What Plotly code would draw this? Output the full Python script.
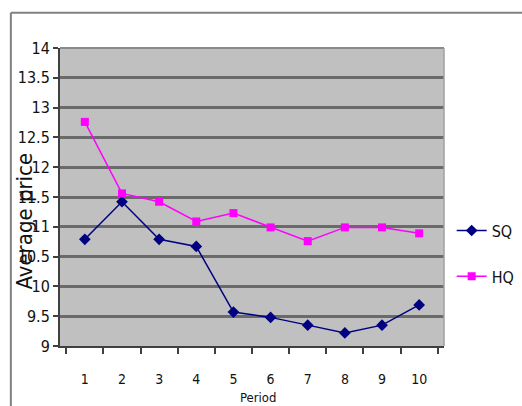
import plotly.graph_objects as go

# Average price per period for the two quality groups
periods = ["1", "2", "3", "4", "5", "6", "7", "8", "9", "10"]
sq_price = [10.79, 11.42, 10.79, 10.67, 9.57, 9.48, 9.35, 9.22, 9.35, 9.69]
hq_price = [12.76, 11.56, 11.42, 11.09, 11.23, 10.99, 10.76, 10.99, 10.99, 10.89]
y_ticks = [9, 9.5, 10, 10.5, 11, 11.5, 12, 12.5, 13, 13.5, 14]

FONT = "DejaVu Sans Condensed, Liberation Sans Narrow, Arial Narrow, Arial, sans-serif"

fig = go.Figure()
fig.add_trace(go.Scatter(
    x=periods, y=sq_price, name="SQ", mode="lines+markers",
    line=dict(color="#000080", width=1.5),
    marker=dict(symbol="diamond", size=9, color="#000080"),
    legendgroup="sq",
))
fig.add_trace(go.Scatter(
    x=periods, y=hq_price, name="HQ", mode="lines+markers",
    line=dict(color="#ff00ff", width=1.5),
    marker=dict(symbol="square", size=8, color="#ff00ff"),
    legendgroup="hq",
))

fig.update_layout(
    width=522, height=406,
    margin=dict(l=60, r=78, t=48, b=60, autoexpand=False),
    paper_bgcolor="white",
    plot_bgcolor="#c0c0c0",
    font=dict(family=FONT, size=16, color="#111111"),
    showlegend=True,
    legend=dict(
        x=1.02, y=0.31, xanchor="left", yanchor="middle",
        traceorder="grouped", tracegroupgap=22,
        itemwidth=30, font=dict(size=16),
        bgcolor="rgba(0,0,0,0)",
    ),
    xaxis=dict(
        type="category", tickson="boundaries",
        ticks="outside", ticklen=6, tickcolor="#404040", tickwidth=1.5,
        ticklabelstandoff=19,
        showline=True, linecolor="#404040", linewidth=2,
        showgrid=False, mirror=False,
        tickfont=dict(size=14),
    ),
    yaxis=dict(
        range=[9, 14], tickvals=y_ticks,
        ticktext=[f"{v:g}" for v in y_ticks],
        ticks="outside", ticklen=5, tickcolor="#404040", tickwidth=1.5,
        showline=True, linecolor="#404040", linewidth=2,
        showgrid=True, gridcolor="#6a6a6a", gridwidth=3,
        zeroline=False, tickfont=dict(size=16),
    ),
)

# Light frame on the top and right edges of the plotting area
fig.add_shape(type="line", xref="paper", yref="paper", x0=0, x1=1, y0=1, y1=1,
              line=dict(color="#8a8a8a", width=2))
fig.add_shape(type="line", xref="paper", yref="paper", x0=1, x1=1, y0=0, y1=1,
              line=dict(color="#a0a0a0", width=1.5))

# Outer chart frame: top and left edges (the rest runs off the page)
fig.add_shape(type="line", xref="paper", yref="paper",
              x0=-0.128, x1=1.5, y0=1.118, y1=1.118,
              line=dict(color="#808080", width=2))
fig.add_shape(type="line", xref="paper", yref="paper",
              x0=-0.128, x1=-0.128, y0=-0.4, y1=1.118,
              line=dict(color="#808080", width=2))

# Axis titles
fig.add_annotation(text="Average price", xref="paper", yref="paper",
                   x=-0.092, y=0.42, textangle=-90, showarrow=False,
                   xanchor="center", yanchor="middle", font=dict(size=22))
fig.add_annotation(text="Period", xref="paper", yref="paper",
                   x=0.516, y=-0.173, showarrow=False,
                   xanchor="center", yanchor="middle", font=dict(size=13))

fig.write_html("out.html")
